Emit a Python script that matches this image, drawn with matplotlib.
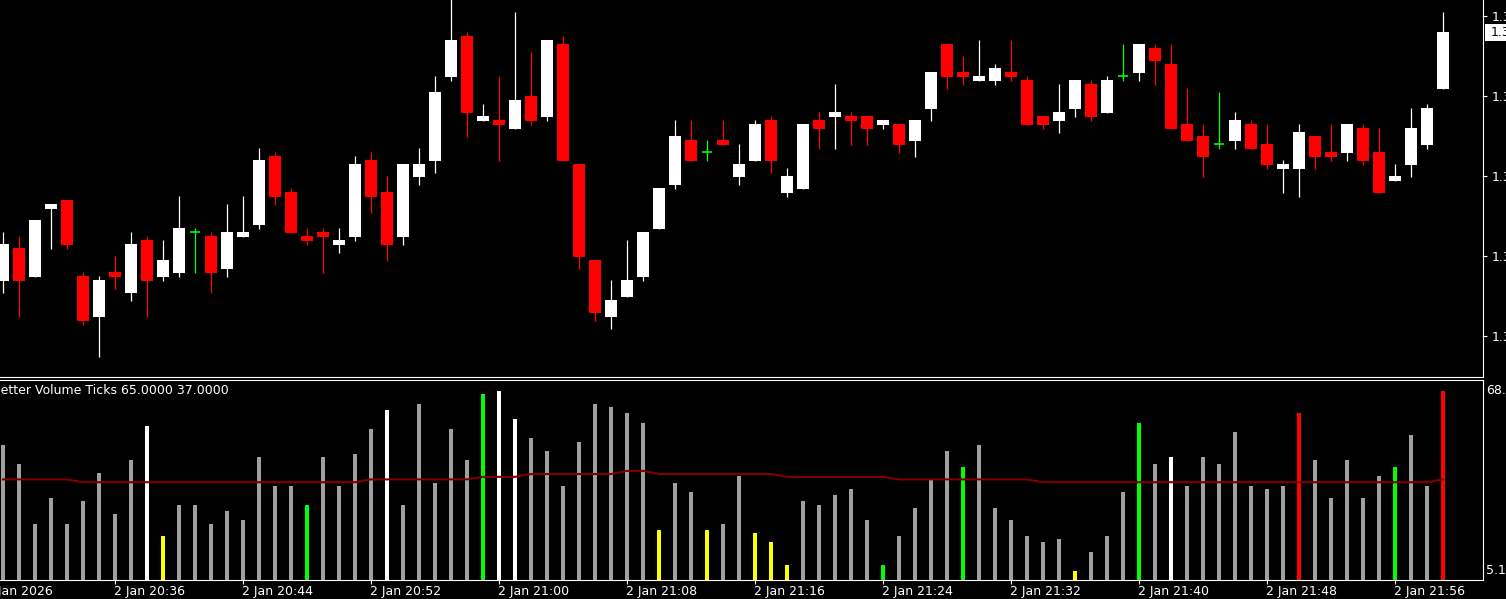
import numpy as np
import matplotlib
matplotlib.use('Agg')
import matplotlib.pyplot as plt
from matplotlib.patches import Rectangle

# 1 minute bars, 20:29 .. 21:59
opens = [1.34295, 1.34328, 1.34299, 1.34367, 1.34376, 1.34300, 1.34259, 1.34304, 1.34283, 1.34336,
         1.34299, 1.34303, 1.34344, 1.34340, 1.34307, 1.34339, 1.34351, 1.34420, 1.34384, 1.34340,
         1.34344, 1.34331, 1.34339, 1.34416, 1.34384, 1.34339, 1.34399, 1.34415, 1.34499, 1.34540,
         1.34455, 1.34456, 1.34447, 1.34480, 1.34459, 1.34532, 1.34412, 1.34316, 1.34259, 1.34279,
         1.34299, 1.34347, 1.34391, 1.34436, 1.34424, 1.34436, 1.34399, 1.34415, 1.34456, 1.34383,
         1.34387, 1.34456, 1.34459, 1.34460, 1.34460, 1.34451, 1.34452, 1.34435, 1.34467, 1.34532,
         1.34504, 1.34495, 1.34495, 1.34504, 1.34496, 1.34460, 1.34455, 1.34467, 1.34492, 1.34463,
         1.34500, 1.34503, 1.34528, 1.34512, 1.34452, 1.34440, 1.34432, 1.34435, 1.34452, 1.34432,
         1.34407, 1.34407, 1.34440, 1.34424, 1.34423, 1.34448, 1.34424, 1.34395, 1.34411, 1.34431,
         1.34487]
highs = [1.34344, 1.34340, 1.34356, 1.34372, 1.34376, 1.34304, 1.34300, 1.34320, 1.34344, 1.34340,
         1.34336, 1.34380, 1.34348, 1.34344, 1.34372, 1.34380, 1.34428, 1.34424, 1.34388, 1.34348,
         1.34348, 1.34348, 1.34420, 1.34424, 1.34400, 1.34412, 1.34428, 1.34500, 1.34580, 1.34544,
         1.34472, 1.34500, 1.34564, 1.34524, 1.34536, 1.34540, 1.34412, 1.34316, 1.34296, 1.34336,
         1.34344, 1.34388, 1.34456, 1.34456, 1.34436, 1.34456, 1.34432, 1.34456, 1.34460, 1.34408,
         1.34452, 1.34464, 1.34492, 1.34464, 1.34460, 1.34456, 1.34452, 1.34456, 1.34504, 1.34532,
         1.34520, 1.34536, 1.34512, 1.34536, 1.34500, 1.34460, 1.34492, 1.34496, 1.34496, 1.34500,
         1.34532, 1.34532, 1.34532, 1.34532, 1.34488, 1.34452, 1.34484, 1.34464, 1.34456, 1.34452,
         1.34416, 1.34452, 1.34440, 1.34452, 1.34452, 1.34452, 1.34448, 1.34412, 1.34468, 1.34472,
         1.34564]
lows = [1.34283, 1.34259, 1.34299, 1.34327, 1.34327, 1.34251, 1.34219, 1.34287, 1.34275, 1.34259,
        1.34295, 1.34299, 1.34303, 1.34283, 1.34299, 1.34339, 1.34347, 1.34371, 1.34343, 1.34331,
        1.34303, 1.34323, 1.34335, 1.34363, 1.34315, 1.34331, 1.34391, 1.34403, 1.34495, 1.34439,
        1.34455, 1.34415, 1.34447, 1.34451, 1.34455, 1.34415, 1.34307, 1.34255, 1.34247, 1.34279,
        1.34295, 1.34347, 1.34387, 1.34415, 1.34415, 1.34431, 1.34391, 1.34415, 1.34403, 1.34379,
        1.34387, 1.34427, 1.34427, 1.34431, 1.34431, 1.34447, 1.34423, 1.34419, 1.34455, 1.34487,
        1.34491, 1.34495, 1.34491, 1.34495, 1.34451, 1.34447, 1.34443, 1.34459, 1.34455, 1.34463,
        1.34495, 1.34495, 1.34491, 1.34447, 1.34435, 1.34399, 1.34427, 1.34427, 1.34427, 1.34407,
        1.34383, 1.34379, 1.34407, 1.34415, 1.34415, 1.34411, 1.34383, 1.34395, 1.34399, 1.34427,
        1.34487]
closes = [1.34332, 1.34295, 1.34356, 1.34372, 1.34331, 1.34255, 1.34296, 1.34299, 1.34332, 1.34295,
          1.34316, 1.34348, 1.34344, 1.34303, 1.34344, 1.34344, 1.34416, 1.34379, 1.34343, 1.34335,
          1.34339, 1.34336, 1.34412, 1.34379, 1.34331, 1.34412, 1.34412, 1.34484, 1.34536, 1.34463,
          1.34460, 1.34451, 1.34476, 1.34455, 1.34536, 1.34415, 1.34319, 1.34263, 1.34276, 1.34296,
          1.34344, 1.34388, 1.34440, 1.34415, 1.34424, 1.34431, 1.34412, 1.34452, 1.34415, 1.34400,
          1.34452, 1.34447, 1.34464, 1.34455, 1.34447, 1.34456, 1.34431, 1.34456, 1.34504, 1.34499,
          1.34499, 1.34500, 1.34508, 1.34499, 1.34451, 1.34451, 1.34464, 1.34496, 1.34459, 1.34496,
          1.34500, 1.34532, 1.34515, 1.34447, 1.34435, 1.34419, 1.34432, 1.34456, 1.34427, 1.34411,
          1.34412, 1.34444, 1.34419, 1.34419, 1.34452, 1.34415, 1.34383, 1.34400, 1.34448, 1.34468,
          1.34544]

# Better Volume (tick volume), bar class and its moving average
volumes = [48, 42, 23, 31, 23, 30, 39, 26, 43, 54,
           19, 29, 29, 23, 27, 24, 44, 35, 35, 29,
           44, 35, 45, 53, 59, 29, 61, 36, 53, 43,
           64, 65, 56, 50, 46, 35, 49, 61, 60, 58,
           55, 21, 36, 33, 21, 23, 38, 20, 17, 10,
           30, 29, 32, 34, 24, 10, 19, 28, 37, 46,
           41, 48, 28, 24, 19, 17, 18, 8, 14, 19,
           33, 55, 42, 44, 35, 44, 42, 52, 35, 34,
           35, 58, 43, 31, 43, 31, 38, 41, 51, 35,
           65]
vol_class = ['n', 'n', 'n', 'n', 'n', 'n', 'n', 'n', 'n', 'w',
             'y', 'n', 'n', 'n', 'n', 'n', 'n', 'n', 'n', 'g',
             'n', 'n', 'n', 'n', 'w', 'n', 'n', 'n', 'n', 'n',
             'g', 'w', 'w', 'n', 'n', 'n', 'n', 'n', 'n', 'n',
             'n', 'y', 'n', 'n', 'y', 'n', 'n', 'y', 'y', 'y',
             'n', 'n', 'n', 'n', 'n', 'g', 'n', 'n', 'n', 'n',
             'g', 'n', 'n', 'n', 'n', 'n', 'n', 'y', 'n', 'n',
             'n', 'g', 'n', 'w', 'n', 'n', 'n', 'n', 'n', 'n',
             'n', 'r', 'n', 'n', 'n', 'n', 'n', 'g', 'n', 'n',
             'r']
vol_ma = [37.0, 37.0, 37.0, 37.0, 37.0, 36.1, 36.1, 36.1, 36.1, 36.1,
          36.1, 36.1, 36.1, 36.1, 36.1, 36.1, 36.1, 36.1, 36.1, 36.1,
          36.1, 36.1, 36.1, 37.0, 37.0, 37.0, 37.0, 37.0, 37.0, 37.0,
          37.8, 37.8, 37.8, 38.7, 38.7, 38.7, 38.7, 38.7, 38.7, 39.7,
          39.7, 38.7, 38.7, 38.7, 38.7, 38.7, 38.7, 38.7, 38.7, 37.8,
          37.8, 37.8, 37.8, 37.8, 37.8, 37.8, 37.0, 37.0, 37.0, 37.0,
          37.0, 37.0, 37.0, 37.0, 37.0, 36.1, 36.1, 36.1, 36.1, 36.1,
          36.1, 36.1, 36.1, 36.1, 36.1, 36.1, 36.1, 36.1, 36.1, 36.1,
          36.1, 36.1, 36.1, 36.1, 36.1, 36.1, 36.1, 36.1, 36.1, 36.1,
          37.0]

time_idx = [-1, 7, 15, 23, 31, 39, 47, 55, 63, 71, 79, 87]
time_labels = ['2 Jan 2026', '2 Jan 20:36', '2 Jan 20:44', '2 Jan 20:52', '2 Jan 21:00', '2 Jan 21:08',
               '2 Jan 21:16', '2 Jan 21:24', '2 Jan 21:32', '2 Jan 21:40', '2 Jan 21:48', '2 Jan 21:56']
price_ticks = [1.34560, 1.34480, 1.34400, 1.34320, 1.34240]

W, H = 1506, 599
def frac(l, t, r, b):
    return [l / W, 1 - b / H, (r - l) / W, (b - t) / H]

plt.rcParams['font.family'] = 'DejaVu Sans'
fs = 9
fig = plt.figure(figsize=(W / 100, H / 100), dpi=100, facecolor='black')
ax = fig.add_axes(frac(0, 0, 1483, 377))
axv = fig.add_axes(frac(0, 380, 1483, 580))

idx = np.arange(len(opens))
o = np.array(opens); c = np.array(closes); h = np.array(highs); l = np.array(lows)
col = np.where(c > o, 'white', np.where(c < o, '#ff0000', '#00ff00'))

ax.vlines(idx, l, h, colors=col, lw=0.9)
body = np.maximum(np.abs(c - o), 0.0000001)
ax.bar(idx, body, bottom=np.minimum(o, c), width=0.69, color=col, linewidth=0)
doji = c == o
ax.hlines(c[doji], idx[doji] - 0.34, idx[doji] + 0.34, colors='#00ff00', lw=1.2)

xl = (-3 / 16, (1483 - 3) / 16)
for a in (ax, axv):
    a.set_facecolor('black')
    a.set_xlim(*xl)
    for s in ('left', 'top'):
        a.spines[s].set_visible(False)
    for s in ('right', 'bottom'):
        a.spines[s].set_color('white')
        a.spines[s].set_linewidth(0.8)
axv.spines['top'].set_visible(True)
axv.spines['top'].set_color('white')
axv.spines['top'].set_linewidth(0.8)

ax.set_ylim(1.34576 - 0.00377, 1.34576)
ax.yaxis.tick_right()
ax.set_yticks(price_ticks)
ax.set_yticklabels(['%.5f' % p for p in price_ticks])
ax.tick_params(axis='y', colors='white', labelsize=fs, length=3, width=0.8, pad=3)
ax.set_xticks([])

# current price marker
fig.patches.append(Rectangle((1485 / W, 1 - 41 / H), 30 / W, 17 / H, transform=fig.transFigure,
                             facecolor='white', edgecolor='none'))
fig.text(1491 / W, 1 - 32 / H, '%.5f' % closes[-1], color='black', fontsize=fs, va='center', ha='left')

# volume panel
vcolors = {'n': '#a0a0a0', 'w': 'white', 'y': '#ffff00', 'g': '#00ff00', 'r': '#ff0000'}
axv.bar(idx, volumes, width=0.19, color=[vcolors[k] for k in vol_class], linewidth=0)
axv.plot(idx, vol_ma, color='#800000', lw=1.5)
axv.set_ylim(5.1, 68.5)
axv.set_yticks([])
axv.set_xticks(time_idx[1:])
axv.set_xticklabels([])
axv.tick_params(axis='x', colors='white', length=3, width=0.8)
tr = axv.get_xaxis_transform()
for i, t in zip(time_idx, time_labels):
    axv.text(i - 0.05, -0.06, t, transform=tr, color='white', fontsize=fs, ha='left', va='center', clip_on=False)

fig.text(1486 / W, 1 - 390 / H, '68.5000', color='white', fontsize=fs, va='center', ha='left')
fig.text(1486 / W, 1 - 571 / H, '5.1000', color='white', fontsize=fs, va='center', ha='left')
axv.text(-8 / 1483, 0.945, 'Better Volume Ticks %.4f %.4f' % (volumes[-1], vol_ma[-1]), transform=axv.transAxes,
         color='white', fontsize=fs, ha='left', va='center', clip_on=False)

fig.savefig('out.png', dpi=100, facecolor='black')
